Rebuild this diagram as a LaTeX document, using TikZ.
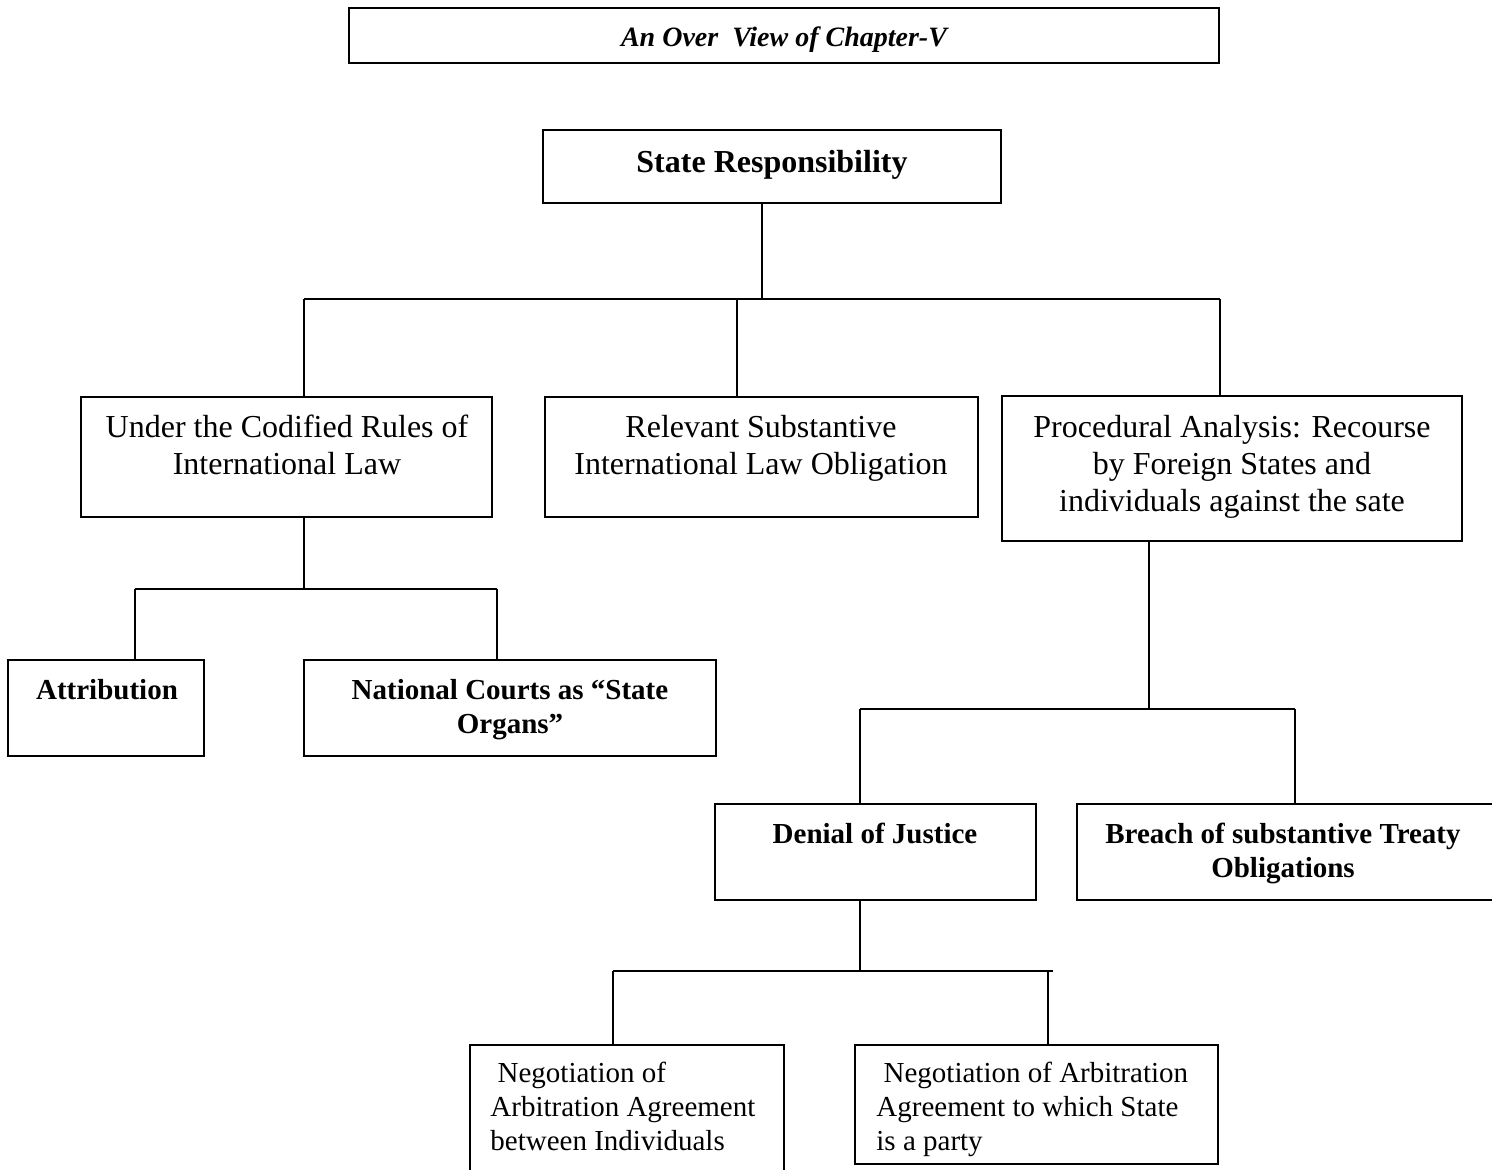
\documentclass[tikz,border=0pt]{standalone}
\usepackage{fontspec}
\setmainfont{Liberation Serif}
\begin{document}
\begin{tikzpicture}[x=0.5pt,y=-0.5pt,
  box/.style={draw, line width=1.1pt, anchor=north west, inner sep=0pt, outer sep=0pt},
  conn/.style={line width=1.1pt},
  big/.style={font=\fontsize{16}{18.5}\selectfont, align=center, inner sep=0pt, anchor=north},
  bigb/.style={font=\fontsize{16}{18.5}\selectfont\bfseries, align=center, inner sep=0pt},
  small/.style={font=\fontsize{14.5}{17}\selectfont\bfseries, align=center, inner sep=0pt, anchor=north},
  smallleft/.style={font=\fontsize{14.5}{17}\selectfont, align=left, inner sep=0pt, anchor=north west},
  headline/.style={font=\fontsize{14}{16}\selectfont\bfseries\itshape, inner sep=0pt}]
\newcommand\mkbox[5]{\node[box, minimum width={(#4-#2)*0.5pt}, minimum height={(#5-#3)*0.5pt}] (#1) at (#2,#3) {};}
\useasboundingbox (0,0) rectangle (1492,1169);

% boxes
\mkbox{ttl}{349}{8}{1219}{63}
\mkbox{sr}{543}{130}{1001}{203}
\mkbox{a}{81}{397}{492}{517}
\mkbox{b}{545}{397}{978}{517}
\mkbox{c}{1002}{396}{1462}{541}
\mkbox{at}{8}{660}{204}{756}
\mkbox{nc}{304}{660}{716}{756}
\mkbox{d}{715}{804}{1036}{900}
\mkbox{br}{1077}{804}{1510}{900}
\mkbox{na}{470}{1045}{784}{1190}
\mkbox{nb}{855}{1045}{1218}{1164}

% texts
\node[headline] (tttl) at (784,40) {An Over\ \ View of Chapter-V};
\node[bigb] (tsr) at (772,165) {State Responsibility};
\node[big] (ta) at (287,415) {Under the Codified Rules of\\International Law};
\node[big] (tb) at (761,415) {Relevant Substantive\\International Law Obligation};
\node[big] (tc) at (1232,415) {Procedural Analysis: Recourse\\by Foreign States and\\individuals against the sate};
\node[small] (tat) at (107,679) {Attribution};
\node[small] (tnc) at (510,679) {National Courts as “State\\Organs”};
\node[small] (td) at (875,823) {Denial of Justice};
\node[small] (tbr) at (1283,823) {Breach of substantive Treaty\\Obligations};
\node[smallleft] (tna) at (490,1062) {\ Negotiation of\\Arbitration Agreement\\between Individuals};
\node[smallleft] (tnb) at (876,1062) {\ Negotiation of Arbitration\\Agreement to which State\\is a party};

% connectors
\coordinate (j0) at (762,299);
\coordinate (ja) at (304,299);
\coordinate (jb) at (737,299);
\coordinate (jc) at (1220,299);
\draw[conn] (sr.south -| j0) -- (j0);
\draw[conn] (ja) -- (jc);
\draw[conn] (ja) -- (ja |- a.north);
\draw[conn] (jb) -- (jb |- b.north);
\draw[conn] (jc) -- (jc |- c.north);

\coordinate (ka) at (304,589);
\coordinate (kl) at (135,589);
\coordinate (kr) at (497,589);
\draw[conn] (a.south -| ka) -- (ka);
\draw[conn] (kl) -- (kr);
\draw[conn] (kl) -- (kl |- at.north);
\draw[conn] (kr) -- (kr |- nc.north);

\coordinate (kc) at (1149,709);
\coordinate (ml) at (860,709);
\coordinate (mr) at (1295,709);
\draw[conn] (c.south -| kc) -- (kc);
\draw[conn] (ml) -- (mr);
\draw[conn] (ml) -- (ml |- d.north);
\draw[conn] (mr) -- (mr |- br.north);

\coordinate (kd) at (860,971);
\coordinate (nl) at (613,971);
\coordinate (nr) at (1048,971);
\coordinate (ne) at (1053,971);
\draw[conn] (d.south -| kd) -- (kd);
\draw[conn] (nl) -- (ne);
\draw[conn] (nl) -- (nl |- na.north);
\draw[conn] (nr) -- (nr |- nb.north);
\end{tikzpicture}
\end{document}
